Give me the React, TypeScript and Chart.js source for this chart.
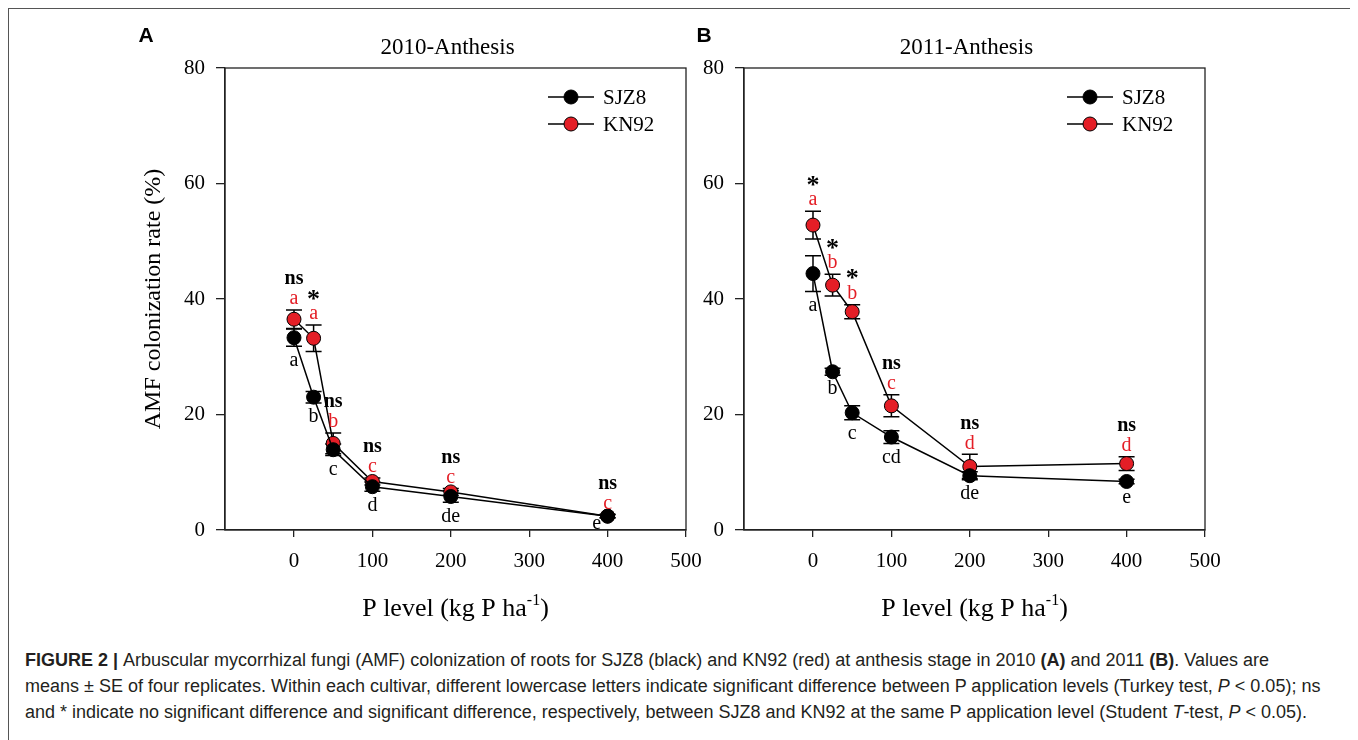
import React, { useEffect, useRef } from "react";
import { Chart, registerables } from "chart.js";

Chart.register(...registerables);

// ---------- data ----------
const pLevels = [0, 25, 50, 100, 200, 400];
const xTickValues = [0, 100, 200, 300, 400, 500];
const yTickValues = [0, 20, 40, 60, 80];

const sjz8_2010 = [33.3, 23.0, 13.9, 7.5, 5.8, 2.4];
const sjz8_2010_se = [1.5, 1.0, 1.0, 0.8, 1.0, 0.3];
const kn92_2010 = [36.5, 33.2, 15.0, 8.4, 6.6, 2.4];
const kn92_2010_se = [1.6, 2.3, 1.8, 0.6, 0.6, 0.3];
const sjz8_2010_letters = ["a", "b", "c", "d", "de", "e"];
const kn92_2010_letters = ["a", "a", "b", "c", "c", "c"];
const sig_2010 = ["ns", "*", "ns", "ns", "ns", "ns"];

const sjz8_2011 = [44.4, 27.4, 20.3, 16.1, 9.4, 8.4];
const sjz8_2011_se = [3.1, 0.6, 1.2, 1.1, 0.7, 0.4];
const kn92_2011 = [52.8, 42.4, 37.8, 21.5, 11.0, 11.5];
const kn92_2011_se = [2.4, 1.9, 1.2, 1.9, 2.1, 1.2];
const sjz8_2011_letters = ["a", "b", "c", "cd", "de", "e"];
const kn92_2011_letters = ["a", "b", "b", "c", "d", "d"];
const sig_2011 = ["*", "*", "*", "ns", "ns", "ns"];

const seriesNames = ["SJZ8", "KN92"];
const RED = "#E41E26";
const AXIS = "#222";
const SERIF = "'Liberation Serif', 'Times New Roman', serif";

type PanelDef = {
  letter: string;
  title: string;
  sj: number[];
  sjSe: number[];
  kn: number[];
  knSe: number[];
  sjLetters: string[];
  knLetters: string[];
  sig: string[];
  showYTitle: boolean;
};

const panelA: PanelDef = {
  letter: "A",
  title: "2010-Anthesis",
  sj: sjz8_2010,
  sjSe: sjz8_2010_se,
  kn: kn92_2010,
  knSe: kn92_2010_se,
  sjLetters: sjz8_2010_letters,
  knLetters: kn92_2010_letters,
  sig: sig_2010,
  showYTitle: true,
};
const panelB: PanelDef = {
  letter: "B",
  title: "2011-Anthesis",
  sj: sjz8_2011,
  sjSe: sjz8_2011_se,
  kn: kn92_2011,
  knSe: kn92_2011_se,
  sjLetters: sjz8_2011_letters,
  knLetters: kn92_2011_letters,
  sig: sig_2011,
  showYTitle: false,
};

const overlayPlugin = {
  id: "overlay",
  beforeDatasetsDraw(chart: any, _args: any, opts: any) {
    const p: PanelDef = opts.panel;
    const ctx = chart.ctx;
    const xs = chart.scales.x;
    const ys = chart.scales.y;
    ctx.save();
    ctx.strokeStyle = "#000";
    ctx.lineWidth = 1.5;
    const bars = [
      [p.sj, p.sjSe],
      [p.kn, p.knSe],
    ];
    bars.forEach(([vals, ses]) => {
      vals.forEach((v: number, i: number) => {
        const x = xs.getPixelForValue(pLevels[i]);
        const yt = ys.getPixelForValue(v + ses[i]);
        const yb = ys.getPixelForValue(v - ses[i]);
        ctx.beginPath();
        ctx.moveTo(x, yt);
        ctx.lineTo(x, yb);
        ctx.moveTo(x - 8, yt);
        ctx.lineTo(x + 8, yt);
        ctx.moveTo(x - 8, yb);
        ctx.lineTo(x + 8, yb);
        ctx.stroke();
      });
    });
    ctx.restore();
  },
  afterDraw(chart: any, _args: any, opts: any) {
    const p: PanelDef = opts.panel;
    const ctx = chart.ctx;
    const ca = chart.chartArea;
    const xs = chart.scales.x;
    const ys = chart.scales.y;
    ctx.save();

    // box
    ctx.strokeStyle = AXIS;
    ctx.lineWidth = 1.3;
    ctx.strokeRect(ca.left, ca.top, ca.right - ca.left, ca.bottom - ca.top);

    // annotations
    ctx.textAlign = "center";
    ctx.textBaseline = "middle";
    pLevels.forEach((lv, i) => {
      const x = xs.getPixelForValue(lv);
      const redY = ys.getPixelForValue(p.kn[i] + p.knSe[i]) - 11;
      ctx.fillStyle = RED;
      ctx.font = `20px ${SERIF}`;
      ctx.fillText(p.knLetters[i], x, redY);
      ctx.fillStyle = "#000";
      if (p.sig[i] === "*") {
        ctx.font = `bold 26px ${SERIF}`;
        ctx.fillText("*", x, redY - 14);
      } else {
        ctx.font = `bold 20px ${SERIF}`;
        ctx.fillText(p.sig[i], x, redY - 20);
      }
      ctx.font = `20px ${SERIF}`;
      const overlapping = Math.abs(p.kn[i] - p.sj[i]) < 0.5;
      if (overlapping) {
        ctx.fillText(p.sjLetters[i], x - 11, ys.getPixelForValue(p.sj[i]) + 8);
      } else {
        const blkY = ys.getPixelForValue(p.sj[i] - p.sjSe[i]) + 14;
        ctx.fillText(p.sjLetters[i], x, blkY);
      }
    });

    // title
    const cx = (ca.left + ca.right) / 2;
    ctx.font = `23px ${SERIF}`;
    ctx.fillStyle = "#000";
    ctx.fillText(p.title, cx - 8, 39);

    // panel letter
    ctx.font = "bold 21px 'Liberation Sans', Arial, sans-serif";
    ctx.fillText(p.letter, opts.letterX, 27);

    // legend
    const mx = ca.right - 115;
    const rows = [88, 115];
    rows.forEach((ry, k) => {
      ctx.strokeStyle = "#000";
      ctx.lineWidth = 1.5;
      ctx.beginPath();
      ctx.moveTo(mx - 23, ry);
      ctx.lineTo(mx + 23, ry);
      ctx.stroke();
      ctx.beginPath();
      ctx.arc(mx, ry, 7, 0, Math.PI * 2);
      ctx.fillStyle = k === 0 ? "#000" : RED;
      ctx.fill();
      ctx.lineWidth = 1;
      ctx.stroke();
      ctx.fillStyle = "#000";
      ctx.font = `21px ${SERIF}`;
      ctx.textAlign = "left";
      ctx.fillText(seriesNames[k], mx + 32, ry + 1);
      ctx.textAlign = "center";
    });

    // x axis title with superscript
    const main1 = "P level (kg P ha";
    const sup = "-1";
    const main2 = ")";
    ctx.font = `26px ${SERIF}`;
    const w1 = ctx.measureText(main1).width;
    const w3 = ctx.measureText(main2).width;
    ctx.font = `16px ${SERIF}`;
    const w2 = ctx.measureText(sup).width;
    const total = w1 + w2 + w3;
    let tx = cx - total / 2;
    const ty = 607;
    ctx.textAlign = "left";
    ctx.textBaseline = "alphabetic";
    ctx.font = `26px ${SERIF}`;
    ctx.fillText(main1, tx, ty);
    tx += w1;
    ctx.font = `16px ${SERIF}`;
    ctx.fillText(sup, tx, ty - 11);
    tx += w2;
    ctx.font = `26px ${SERIF}`;
    ctx.fillText(main2, tx, ty);

    // y axis title
    if (p.showYTitle) {
      ctx.save();
      ctx.translate(145, (ca.top + ca.bottom) / 2);
      ctx.rotate(-Math.PI / 2);
      ctx.textAlign = "center";
      ctx.textBaseline = "middle";
      ctx.font = `24px ${SERIF}`;
      ctx.fillText("AMF colonization rate (%)", 0, 0);
      ctx.restore();
    }
    ctx.restore();
  },
};

function makeConfig(p: PanelDef, yWidth: number, padRight: number, letterX: number): any {
  const mk = (vals: number[]) => vals.map((v, i) => ({ x: pLevels[i], y: v }));
  return {
    type: "line",
    data: {
      datasets: [
        {
          label: seriesNames[0],
          data: mk(p.sj),
          borderColor: "#000",
          borderWidth: 1.5,
          backgroundColor: "#000",
          pointBackgroundColor: "#000",
          pointBorderColor: "#000",
          pointBorderWidth: 1,
          pointRadius: 7,
          tension: 0,
        },
        {
          label: seriesNames[1],
          data: mk(p.kn),
          borderColor: "#000",
          borderWidth: 1.5,
          backgroundColor: RED,
          pointBackgroundColor: RED,
          pointBorderColor: "#000",
          pointBorderWidth: 1,
          pointRadius: 7,
          tension: 0,
        },
      ],
    },
    options: {
      responsive: false,
      animation: false,
      layout: { padding: { left: 0, top: 59, right: padRight, bottom: 29 } },
      plugins: {
        legend: { display: false },
        tooltip: { enabled: false },
        overlay: { panel: p, letterX },
      },
      scales: {
        x: {
          type: "linear",
          min: -88,
          max: 500,
          afterBuildTicks: (s: any) => {
            s.ticks = xTickValues.map((v) => ({ value: v }));
          },
          afterFit: (s: any) => {
            s.height = 80;
          },
          grid: {
            display: true,
            drawOnChartArea: false,
            drawTicks: true,
            tickLength: 7,
            color: AXIS,
            lineWidth: 1.3,
          },
          border: { display: true, color: AXIS, width: 1.3 },
          ticks: {
            color: "#000",
            padding: 12,
            maxRotation: 0,
            font: { family: SERIF, size: 21 },
          },
        },
        y: {
          type: "linear",
          min: 0,
          max: 80,
          afterBuildTicks: (s: any) => {
            s.ticks = yTickValues.map((v) => ({ value: v }));
          },
          afterFit: (s: any) => {
            s.width = yWidth;
          },
          grid: {
            display: true,
            drawOnChartArea: false,
            drawTicks: true,
            tickLength: 9,
            color: AXIS,
            lineWidth: 1.3,
          },
          border: { display: true, color: AXIS, width: 1.3 },
          ticks: {
            color: "#000",
            padding: 11,
            font: { family: SERIF, size: 21 },
          },
        },
      },
    },
    plugins: [overlayPlugin],
  };
}

function Panel(props: {
  p: PanelDef;
  left: number;
  width: number;
  yWidth: number;
  padRight: number;
  letterX: number;
}) {
  const ref = useRef<HTMLCanvasElement>(null);
  useEffect(() => {
    if (!ref.current) return;
    const chart = new Chart(ref.current, makeConfig(props.p, props.yWidth, props.padRight, props.letterX));
    return () => chart.destroy();
  }, []);
  return (
    <canvas
      ref={ref}
      width={props.width}
      height={630}
      style={{ position: "absolute", left: props.left, top: 0, width: props.width, height: 630 }}
    />
  );
}

export default function App() {
  const capStyle: React.CSSProperties = {
    whiteSpace: "nowrap",
    height: 26,
    lineHeight: "26px",
  };
  return (
    <div
      style={{
        position: "relative",
        width: 1345,
        height: 760,
        border: "1px solid #555",
        overflow: "hidden",
        background: "#fff",
      }}
    >
      <Panel p={panelA} left={0} width={720} yWidth={216} padRight={43} letterX={137} />
      <Panel p={panelB} left={680} width={667} yWidth={55} padRight={151} letterX={15} />
      <div
        style={{
          position: "absolute",
          left: 16,
          top: 638,
          fontFamily: "'Liberation Sans', Arial, sans-serif",
          fontSize: 18,
          color: "#231f20",
        }}
      >
        <div style={capStyle}>
          <b>FIGURE 2 | </b>
          Arbuscular mycorrhizal fungi (AMF) colonization of roots for SJZ8 (black) and KN92 (red) at anthesis stage in 2010{" "}
          <b>(A)</b>
          {" and 2011 "}
          <b>(B)</b>
          {". Values are"}
        </div>
        <div style={capStyle}>
          means ± SE of four replicates. Within each cultivar, different lowercase letters indicate significant difference
          between P application levels (Turkey test, <i>P</i> {"<"} 0.05); ns
        </div>
        <div style={capStyle}>
          and * indicate no significant difference and significant difference, respectively, between SJZ8 and KN92 at the
          same P application level (Student <i>T</i>-test, <i>P</i> {"<"} 0.05).
        </div>
      </div>
    </div>
  );
}
